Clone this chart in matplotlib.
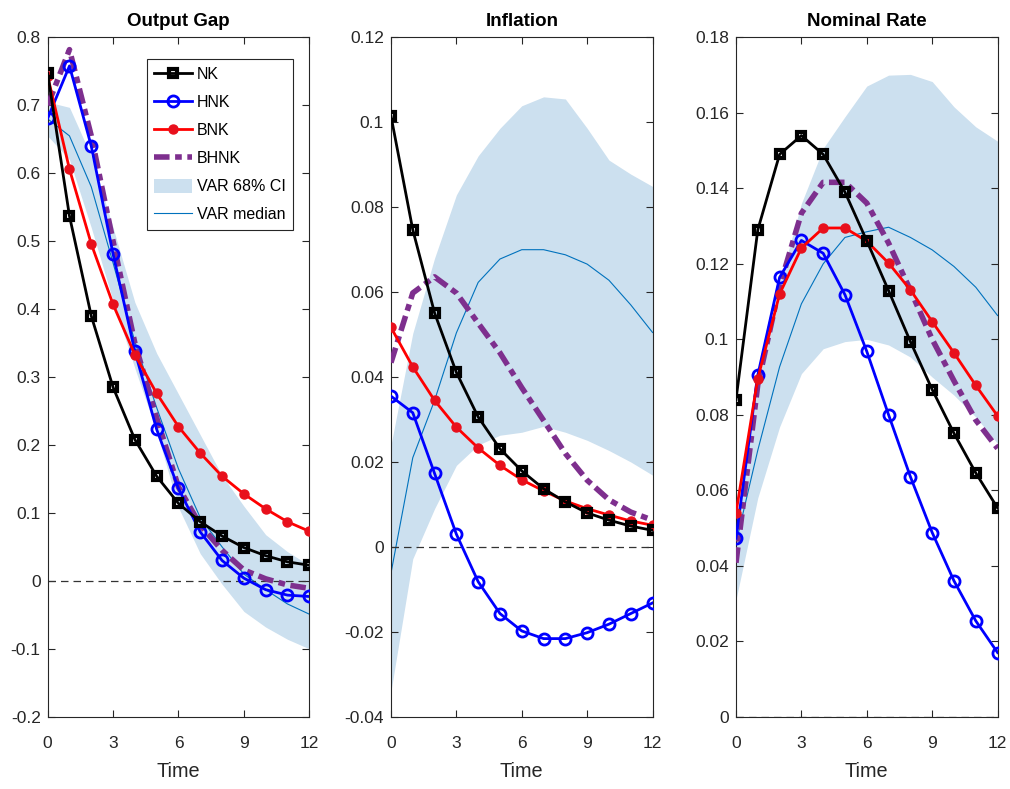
import numpy as np
import matplotlib
matplotlib.use('Agg')
import matplotlib.pyplot as plt
from matplotlib import font_manager
from matplotlib.patches import Patch
from matplotlib.lines import Line2D

# fonts: narrow sans if it is there
names = set(f.name for f in font_manager.fontManager.ttflist)
fam = 'Liberation Sans Narrow' if 'Liberation Sans Narrow' in names else 'Liberation Sans'
plt.rcParams['font.family'] = [fam, 'DejaVu Sans']

########################    DATA  ########################

t = np.arange(0, 13)

# Output gap
og_nk = [0.747, 0.537, 0.390, 0.285, 0.208, 0.154, 0.114, 0.087, 0.066, 0.049, 0.037, 0.028, 0.023]
og_hnk = [0.681, 0.758, 0.640, 0.481, 0.338, 0.223, 0.136, 0.072, 0.030, 0.004, -0.013, -0.021, -0.023]
og_bnk = [0.743, 0.606, 0.496, 0.407, 0.333, 0.276, 0.227, 0.188, 0.154, 0.128, 0.106, 0.087, 0.073]
og_bhnk = [0.700, 0.782, 0.655, 0.500, 0.350, 0.240, 0.138, 0.082, 0.045, 0.016, 0.003, -0.006, -0.011]
og_med = [0.680, 0.655, 0.580, 0.468, 0.352, 0.255, 0.165, 0.093, 0.050, 0.010, -0.013, -0.034, -0.049]
og_lo = [0.655, 0.620, 0.520, 0.412, 0.313, 0.220, 0.108, 0.040, -0.005, -0.045, -0.068, -0.086, -0.100]
og_hi = [0.705, 0.697, 0.625, 0.520, 0.410, 0.335, 0.275, 0.215, 0.155, 0.110, 0.068, 0.043, 0.023]

# Inflation
pi_nk = [0.1015, 0.0747, 0.0551, 0.0411, 0.0306, 0.0231, 0.0179, 0.0137, 0.0106, 0.0080, 0.0063, 0.0049, 0.0039]
pi_hnk = [0.0355, 0.0316, 0.0173, 0.0030, -0.0082, -0.0157, -0.0198, -0.0216, -0.0216, -0.0202, -0.0182, -0.0157, -0.0132]
pi_bnk = [0.0517, 0.0424, 0.0345, 0.0282, 0.0233, 0.0192, 0.0158, 0.0132, 0.0108, 0.0090, 0.0075, 0.0061, 0.0051]
pi_bhnk = [0.0434, 0.0598, 0.0636, 0.0598, 0.0527, 0.0457, 0.0375, 0.0298, 0.0220, 0.0157, 0.0111, 0.0082, 0.0063]
pi_med = [-0.0062, 0.0210, 0.0345, 0.0504, 0.0623, 0.0678, 0.0700, 0.0700, 0.0688, 0.0666, 0.0628, 0.0570, 0.0505]
pi_lo = [-0.0340, -0.0028, 0.0090, 0.0192, 0.0240, 0.0263, 0.0270, 0.0284, 0.0270, 0.0251, 0.0227, 0.0200, 0.0169]
pi_hi = [0.0240, 0.0503, 0.0680, 0.0829, 0.0921, 0.0986, 0.1039, 0.1060, 0.1055, 0.0986, 0.0911, 0.0878, 0.0849]

# Nominal rate
r_nk = [0.0840, 0.1290, 0.1490, 0.1540, 0.1490, 0.1390, 0.1261, 0.1129, 0.0994, 0.0867, 0.0751, 0.0646, 0.0553]
r_hnk = [0.0473, 0.0905, 0.1164, 0.1262, 0.1228, 0.1118, 0.0968, 0.0800, 0.0636, 0.0488, 0.0360, 0.0254, 0.0170]
r_bnk = [0.0540, 0.0896, 0.1120, 0.1242, 0.1295, 0.1295, 0.1260, 0.1202, 0.1131, 0.1047, 0.0964, 0.0878, 0.0797]
r_bhnk = [0.0408, 0.0880, 0.1140, 0.1334, 0.1416, 0.1416, 0.1361, 0.1255, 0.1130, 0.1000, 0.0890, 0.0786, 0.0711]
r_med = [0.0460, 0.0706, 0.0927, 0.1094, 0.1200, 0.1270, 0.1285, 0.1297, 0.1270, 0.1237, 0.1193, 0.1138, 0.1063]
r_lo = [0.0310, 0.0580, 0.0768, 0.0909, 0.0975, 0.0994, 0.1000, 0.0985, 0.0953, 0.0900, 0.0852, 0.0794, 0.0724]
r_hi = [0.0500, 0.0880, 0.1150, 0.1360, 0.1506, 0.1590, 0.1671, 0.1700, 0.1702, 0.1683, 0.1616, 0.1563, 0.1525]

titles = ['Output Gap', 'Inflation', 'Nominal Rate']
ylims = [(-0.2, 0.8), (-0.04, 0.12), (0, 0.18)]
yticks = [np.arange(-0.2, 0.81, 0.1), np.arange(-0.04, 0.121, 0.02), np.arange(0, 0.181, 0.02)]
yticklabels = [['-0.2', '-0.1', '0', '0.1', '0.2', '0.3', '0.4', '0.5', '0.6', '0.7', '0.8'],
               ['-0.04', '-0.02', '0', '0.02', '0.04', '0.06', '0.08', '0.1', '0.12'],
               ['0', '0.02', '0.04', '0.06', '0.08', '0.1', '0.12', '0.14', '0.16', '0.18']]

panels = [(og_nk, og_hnk, og_bnk, og_bhnk, og_med, og_lo, og_hi),
          (pi_nk, pi_hnk, pi_bnk, pi_bhnk, pi_med, pi_lo, pi_hi),
          (r_nk, r_hnk, r_bnk, r_bhnk, r_med, r_lo, r_hi)]

purple = '#7E2F8E'
band_c = '#cce0ef'
med_c = '#0072BD'
dash_bh = (2.8, 1.0, 1.2, 1.0)

fig = plt.figure(figsize=(10.1, 7.89), dpi=100)
lefts = [0.0472, 0.3871, 0.7287]

for i in range(3):
    nk, hnk, bnk, bhnk, med, lo, hi = panels[i]
    ax = fig.add_axes([lefts[i], 0.0916, 0.259, 0.861])
    ax.fill_between(t, lo, hi, color=band_c, lw=0, zorder=1)
    ax.plot(t, med, color=med_c, lw=0.8, zorder=2)
    ax.axhline(0, color='#333333', lw=0.9, ls=(0, (6, 4)), zorder=2)
    ax.plot(t, nk, color='black', lw=2, marker='s', ms=6, mfc='none', mew=3, zorder=5)
    ax.plot(t, hnk, color='#0000ff', lw=2, marker='o', ms=8, mfc='none', mew=2, zorder=4)
    ax.plot(t, bnk, color='#ff0000', lw=2, marker='o', ms=6.5, mfc='#e8101c', mec='#e8101c', zorder=4)
    ax.plot(t, bhnk, color=purple, lw=4, dashes=dash_bh, zorder=3)

    ax.set_xlim(0, 12)
    ax.set_ylim(*ylims[i])
    ax.set_xticks([0, 3, 6, 9, 12])
    ax.set_yticks(yticks[i])
    ax.set_yticklabels(yticklabels[i])
    ax.tick_params(direction='in', top=True, right=True, length=5, width=0.8,
                   labelsize=12.5, colors='#262626')
    ax.tick_params(axis='x', pad=14)
    ax.tick_params(axis='y', pad=5)
    for s in ax.spines.values():
        s.set_color('#262626')
        s.set_linewidth(0.8)
    ax.set_title(titles[i], fontsize=13.5, fontweight='bold', y=1.0, pad=8)
    ax.set_xlabel('Time', fontsize=14.3, color='#262626', labelpad=8)

    if i == 0:
        handles = [Line2D([], [], color='black', lw=2, marker='s', ms=6, mfc='none', mew=3),
                   Line2D([], [], color='#0000ff', lw=2, marker='o', ms=8, mfc='none', mew=2),
                   Line2D([], [], color='#ff0000', lw=2, marker='o', ms=6.5, mfc='#e8101c', mec='#e8101c'),
                   Line2D([], [], color=purple, lw=4, dashes=dash_bh),
                   Patch(facecolor=band_c, edgecolor='none'),
                   Line2D([], [], color=med_c, lw=0.8)]
        leg = ax.legend(handles, ['NK', 'HNK', 'BNK', 'BHNK', 'VAR 68% CI', 'VAR median'],
                        loc='upper right', bbox_to_anchor=(0.938, 0.968), fontsize=11.5,
                        fancybox=False, framealpha=1, edgecolor='#262626',
                        handlelength=2.4, handletextpad=0.3, borderpad=0.45,
                        labelspacing=0.78, borderaxespad=0, handleheight=1.0)
        leg.get_frame().set_linewidth(0.8)

fig.savefig('out.png', dpi=100)
